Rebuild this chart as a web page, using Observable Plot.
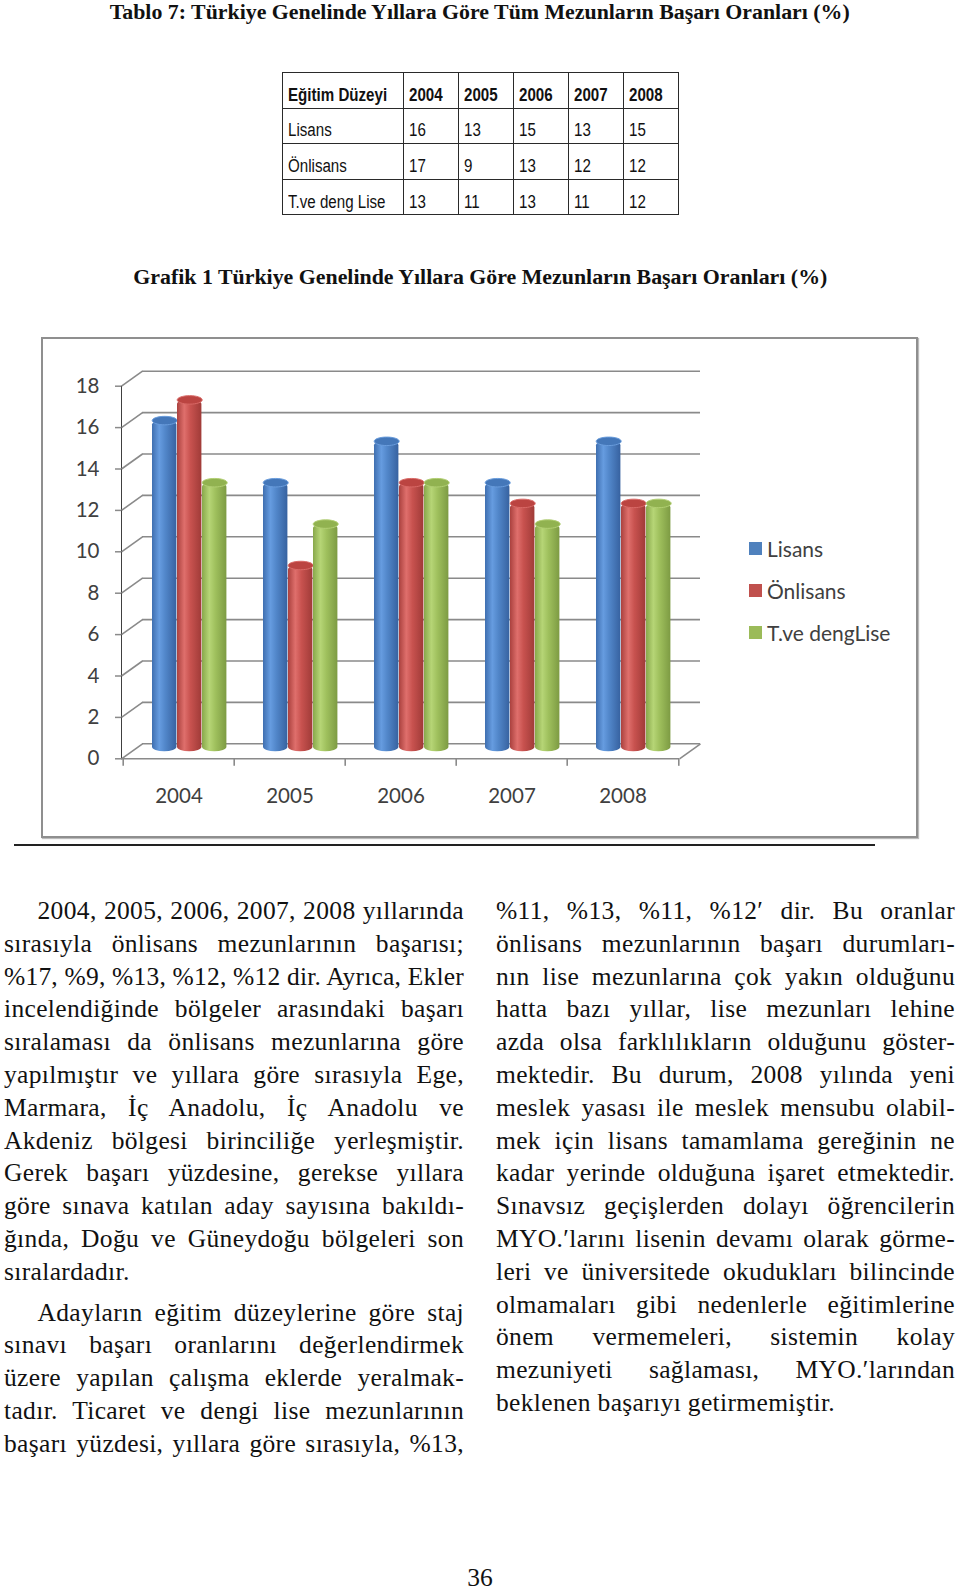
<!DOCTYPE html>
<html><head><meta charset="utf-8">
<script src="https://cdn.jsdelivr.net/npm/d3@7"></script>
<script src="https://cdn.jsdelivr.net/npm/@observablehq/plot@0.6"></script>
<style>
html,body{margin:0;padding:0;background:#fff;}
#page{position:relative;width:960px;height:1591px;overflow:hidden;font-family:"Liberation Serif","Times New Roman",serif;color:#111;}
.abs{position:absolute;white-space:nowrap;}
.ttl{position:absolute;left:0;width:960px;text-align:center;font-weight:bold;font-size:20px;line-height:24px;white-space:nowrap;}
.ttl span{display:inline-block;transform-origin:center;}
table.t{position:absolute;left:282px;top:72px;border-collapse:collapse;table-layout:fixed;width:396px;
  font-family:"Liberation Sans",Arial,sans-serif;font-size:18px;color:#111;}
table.t td{border:1.5px solid #2a2a2a;padding:0 0 2px 5px;vertical-align:bottom;line-height:1.1;height:35.6px;box-sizing:border-box;overflow:visible;white-space:nowrap;}
table.t td span{display:inline-block;transform:scaleX(0.84);transform-origin:left bottom;}
table.t tr:first-child td{font-weight:bold;}
#box{position:absolute;left:41px;top:337px;width:877px;height:501px;border:2px solid #8f8f8f;box-sizing:border-box;box-shadow:1px 1px 1px #bbb;}
#sep{position:absolute;left:14px;top:844px;width:861px;height:2px;background:#222;}
#chartHost{position:absolute;left:0;top:330px;}
.legend{position:absolute;left:749px;font-family:Lato,sans-serif;font-size:21px;color:#404040;display:flex;align-items:center;white-space:nowrap;}
.legend i{display:inline-block;width:13px;height:13px;margin-right:5px;}
.ln{position:absolute;height:33px;line-height:33px;font-size:25.5px;letter-spacing:0.35px;text-align:justify;text-align-last:justify;white-space:nowrap;overflow:visible;}
.ln.end{text-align-last:left;}
.chart [aria-label^="y-axis"] line,.chart [aria-label^="y-axis"] path{stroke:#8a8a8a !important;stroke-width:1.5px;}
.chart text{fill:#404040;}
</style></head>
<body>
<svg width="0" height="0" style="position:absolute">
<defs>
<linearGradient id="g0" x1="0" x2="1" y1="0" y2="0">
<stop offset="0" stop-color="#3f6fb0"/><stop offset="0.3" stop-color="#669ce0"/><stop offset="0.55" stop-color="#5186c9"/><stop offset="1" stop-color="#3762a0"/>
</linearGradient>
<linearGradient id="g1" x1="0" x2="1" y1="0" y2="0">
<stop offset="0" stop-color="#aa413e"/><stop offset="0.3" stop-color="#df6f6c"/><stop offset="0.55" stop-color="#c8524f"/><stop offset="1" stop-color="#a03b38"/>
</linearGradient>
<linearGradient id="g2" x1="0" x2="1" y1="0" y2="0">
<stop offset="0" stop-color="#88a84b"/><stop offset="0.3" stop-color="#b6d576"/><stop offset="0.55" stop-color="#9fc05d"/><stop offset="1" stop-color="#7d9b43"/>
</linearGradient>
</defs></svg>
<div id="page">
  <div class="ttl" id="t1" style="top:0px"><span>Tablo 7: Türkiye Genelinde Yıllara Göre Tüm Mezunların Başarı Oranları (%)</span></div>
  <table class="t" id="tbl"><colgroup><col style="width:121px"><col style="width:55px"><col style="width:55px"><col style="width:55px"><col style="width:55px"><col style="width:55px"></colgroup><tbody></tbody></table>
  <div class="ttl" id="t2" style="top:265px"><span>Grafik 1 Türkiye Genelinde Yıllara Göre Mezunların Başarı Oranları (%)</span></div>
  <div id="box"></div>
  <div id="chartHost"></div>
  <div id="legendHost"></div>
  <div id="sep"></div>
  <div id="textHost"></div>
  <div class="abs" style="left:0;width:960px;text-align:center;top:1565px;font-size:25.5px;line-height:25px;">36</div>
</div>
<script>
// ---------- data ----------
const years = ["2004", "2005", "2006", "2007", "2008"];
const seriesNames = ["Lisans", "Önlisans", "T.ve dengLise"];
const tableRowLabels = ["Lisans", "Önlisans", "T.ve deng Lise"];
const tableHeaderLabel = "Eğitim Düzeyi";
const lisans = [16, 13, 15, 13, 15];
const onlisans = [17, 9, 13, 12, 12];
const tveDengLise = [13, 11, 13, 11, 12];
const yTicks = [0, 2, 4, 6, 8, 10, 12, 14, 16, 18];
const seriesValues = [lisans, onlisans, tveDengLise];

// ---------- styles ----------
const barFills = ["url(#g0)", "url(#g1)", "url(#g2)"];
const legendColors = ["#4f81bd", "#c0504d", "#9bbb59"];
const capFills = ["#4477b9", "#bb4441", "#91b250"];
const capStrokes = ["#6a9ddd", "#d96a67", "#b2cf73"];
const gridColor = "#8a8a8a";

// ---------- table ----------
const tbody = document.querySelector("#tbl tbody");
function addRow(cells) {
  const tr = document.createElement("tr");
  cells.forEach(c => {
    const td = document.createElement("td");
    const sp = document.createElement("span");
    sp.textContent = c;
    td.appendChild(sp);
    tr.appendChild(td);
  });
  tbody.appendChild(tr);
}
addRow([tableHeaderLabel, ...years]);
tableRowLabels.forEach((lab, i) => addRow([lab, ...seriesValues[i].map(String)]));

// ---------- chart ----------
const W = 960, H = 515, ML = 121, MR = 281, MT = 55.7, MB = 86.7;
const bw = (W - ML - MR) / years.length;
const DX = 21, DY = -15;         // depth of the 3D wall
const barW = 25, groupStart = 29, midDy = -7;
const seg = (dx, dy) => ({draw(ctx) { ctx.moveTo(0, 0); ctx.lineTo(dx, dy); }});
const ellipse = {draw(ctx, size) {
  const a = Math.sqrt(size / Math.PI), b = a * 0.34, k = 0.5523;
  ctx.moveTo(-a, 0);
  ctx.bezierCurveTo(-a, -k * b, -k * a, -b, 0, -b);
  ctx.bezierCurveTo(k * a, -b, a, -k * b, a, 0);
  ctx.bezierCurveTo(a, k * b, k * a, b, 0, b);
  ctx.bezierCurveTo(-k * a, b, -a, k * b, -a, 0);
  ctx.closePath();
}};

const seriesData = seriesValues.map(vals => years.map((y, j) => ({year: y, value: vals[j]})));
const marks = [
  Plot.ruleY(yTicks, {dx: DX, dy: DY, stroke: gridColor, strokeWidth: 1.6}),
  Plot.dot(yTicks, {y: d => d, frameAnchor: "left", symbol: seg(DX, DY), r: 1, fill: "none", stroke: gridColor, strokeWidth: 1.6}),
  Plot.dot([0], {y: d => d, frameAnchor: "right", symbol: seg(DX, DY), r: 1, fill: "none", stroke: gridColor, strokeWidth: 1.6}),
  Plot.ruleY([0], {stroke: gridColor, strokeWidth: 1.6}),
  Plot.dot(years, {x: d => d, dx: -bw / 2, frameAnchor: "bottom", symbol: seg(0, 7), r: 1, fill: "none", stroke: gridColor, strokeWidth: 1.6}),
  Plot.dot(years.slice(-1), {x: d => d, dx: bw / 2, frameAnchor: "bottom", symbol: seg(0, 7), r: 1, fill: "none", stroke: gridColor, strokeWidth: 1.6}),
];
seriesData.forEach((d, i) => {
  marks.push(Plot.barY(d, {
    x: "year", y: "value", fill: barFills[i],
    insetLeft: groupStart + i * barW, insetRight: bw - (groupStart + (i + 1) * barW),
    dy: midDy, rx: barW / 2, ry: 4.5
  }));
  marks.push(Plot.dot(d, {
    x: "year", y: "value", dx: groupStart + i * barW + barW / 2 - bw / 2, dy: midDy,
    r: barW / 2, symbol: ellipse, fill: capFills[i], stroke: capStrokes[i], strokeWidth: 1
  }));
});

const chart = Plot.plot({
  width: W, height: H,
  marginLeft: ML, marginRight: MR, marginTop: MT, marginBottom: MB,
  className: "chart",
  style: {fontFamily: "Lato, sans-serif", fontSize: "20.5px", color: "#404040", background: "transparent", overflow: "visible"},
  x: {domain: years, padding: 0, tickSize: 0, tickPadding: 30, label: null},
  y: {domain: [0, 18], ticks: yTicks, tickSize: 6, tickPadding: 16, line: true, label: null},
  marks
});
document.getElementById("chartHost").appendChild(chart);

// legend
const legendHost = document.getElementById("legendHost");
const legendTops = [536, 578, 620];
seriesNames.forEach((s, i) => {
  const d = document.createElement("div");
  d.className = "legend";
  d.style.top = legendTops[i] + "px";
  d.innerHTML = `<i style="background:${legendColors[i]}"></i><span></span>`;
  d.querySelector("span").textContent = s;
  legendHost.appendChild(d);
});

// ---------- body text ----------
const leftParas = [
  {indent: true, end: true, lines: [
    "2004, 2005, 2006, 2007, 2008 yıllarında",
    "sırasıyla önlisans mezunlarının başarısı;",
    "%17, %9, %13, %12, %12 dir. Ayrıca, Ekler",
    "incelendiğinde bölgeler arasındaki başarı",
    "sıralaması da önlisans mezunlarına göre",
    "yapılmıştır ve yıllara göre sırasıyla Ege,",
    "Marmara, İç Anadolu, İç Anadolu ve",
    "Akdeniz bölgesi birinciliğe yerleşmiştir.",
    "Gerek başarı yüzdesine, gerekse yıllara",
    "göre sınava katılan aday sayısına bakıldı-",
    "ğında, Doğu ve Güneydoğu bölgeleri son",
    "sıralardadır."]},
  {indent: true, end: false, lines: [
    "Adayların eğitim düzeylerine göre staj",
    "sınavı başarı oranlarını değerlendirmek",
    "üzere yapılan çalışma eklerde yeralmak-",
    "tadır. Ticaret ve dengi lise mezunlarının",
    "başarı yüzdesi, yıllara göre sırasıyla, %13,"]}
];
const rightParas = [
  {indent: false, end: true, lines: [
    "%11, %13, %11, %12′ dir. Bu oranlar",
    "önlisans mezunlarının başarı durumları-",
    "nın lise mezunlarına çok yakın olduğunu",
    "hatta bazı yıllar, lise mezunları lehine",
    "azda olsa farklılıkların olduğunu göster-",
    "mektedir. Bu durum, 2008 yılında yeni",
    "meslek yasası ile meslek mensubu olabil-",
    "mek için lisans tamamlama gereğinin ne",
    "kadar yerinde olduğuna işaret etmektedir.",
    "Sınavsız geçişlerden dolayı öğrencilerin",
    "MYO.′larını lisenin devamı olarak görme-",
    "leri ve üniversitede okudukları bilincinde",
    "olmamaları gibi nedenlerle eğitimlerine",
    "önem vermemeleri, sistemin kolay",
    "mezuniyeti sağlaması, MYO.′larından",
    "beklenen başarıyı getirmemiştir."]}
];
const textHost = document.getElementById("textHost");
const meas = document.createElement("span");
meas.style.cssText = "position:absolute;visibility:hidden;white-space:nowrap;font-size:25.5px;letter-spacing:0.35px;";
textHost.appendChild(meas);
const PITCH = 32.8;
function renderCol(paras, left, top, width) {
  let y = top;
  paras.forEach(p => {
    p.lines.forEach((t, k) => {
      const ind = (p.indent && k === 0) ? 33.5 : 0;
      const d = document.createElement("div");
      const isEnd = p.end && k === p.lines.length - 1;
      d.className = "ln" + (isEnd ? " end" : "");
      d.style.left = (left + ind) + "px";
      d.style.top = y + "px";
      d.style.width = (width - ind) + "px";
      d.textContent = t;
      meas.textContent = t;
      const nat = meas.getBoundingClientRect().width;
      if (nat > width - ind) d.style.letterSpacing = (0.35 + (width - ind - nat) / t.length) + "px";
      textHost.appendChild(d);
      y += PITCH;
    });
    y += 8;
  });
}
renderCol(leftParas, 4, 894, 460);
renderCol(rightParas, 496, 894, 459);

// fit titles to their measured widths in the reference
function fit(id, target) {
  const s = document.querySelector("#" + id + " span");
  const w = s.getBoundingClientRect().width;
  s.style.transform = `scaleX(${target / w})`;
}
fit("t1", 740);
fit("t2", 694);
</script>
</body></html>
